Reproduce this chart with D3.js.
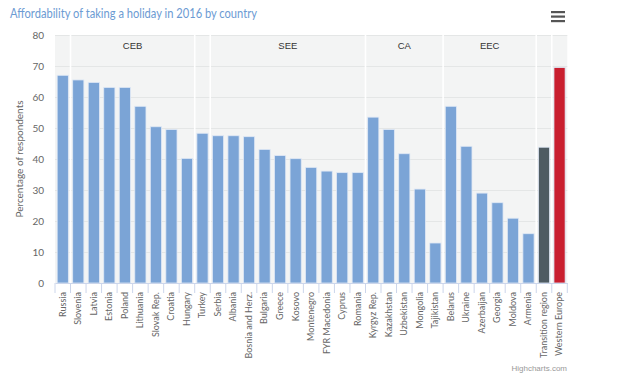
<!DOCTYPE html>
<html>
<head>
<meta charset="utf-8">
<script src="https://cdn.jsdelivr.net/npm/d3@7"></script>
<style>
  body { margin: 0; background: #fff; }
  svg { display: block; font-family: "Liberation Sans", Arial, sans-serif; }
</style>
</head>
<body>
<div id="chart"></div>
<script>
// DATA
var countries = ["Russia", "Slovenia", "Latvia", "Estonia", "Poland", "Lithuania", "Slovak Rep.",
  "Croatia", "Hungary", "Turkey", "Serbia", "Albania", "Bosnia and Herz.", "Bulgaria", "Greece",
  "Kosovo", "Montenegro", "FYR Macedonia", "Cyprus", "Romania", "Kyrgyz Rep.", "Kazakhstan",
  "Uzbekistan", "Mongolia", "Tajikistan", "Belarus", "Ukraine", "Azerbaijan", "Georgia",
  "Moldova", "Armenia", "Transition region", "Western Europe"];

var values = [67, 65.5, 64.7, 63.1, 63.1, 57, 50.4, 49.5, 40.2, 48.3, 47.5, 47.5, 47.2, 43.1, 41.1,
  40.1, 37.3, 36.1, 35.6, 35.6, 53.5, 49.5, 41.7, 30.3, 12.9, 57, 44.1, 29, 25.9, 20.9, 15.9,
  43.8, 69.5];

// region bands along the x axis (label, number of countries)
var bandLabels = ["", "CEB", "", "SEE", "CA", "EEC", "", ""];
var bandCounts = [1, 8, 1, 10, 5, 6, 1, 1];

var yTicks = [0, 10, 20, 30, 40, 50, 60, 70, 80];

// SET UP CHART
var svgWidth = 640, svgHeight = 386;
var margin = { top: 35, right: 73, bottom: 103, left: 55 };
var chartWidth = svgWidth - margin.left - margin.right + 0.3;
var chartHeight = svgHeight - margin.top - margin.bottom;

var svg = d3.select("#chart").append("svg")
  .attr("width", svgWidth)
  .attr("height", svgHeight);

// title
svg.append("text")
  .attr("x", 10)
  .attr("y", 18)
  .attr("fill", "#6c9bd3")
  .attr("textLength", 247)
  .attr("lengthAdjust", "spacingAndGlyphs")
  .style("font-family", "Lato, sans-serif")
  .style("font-size", "12.5px")
  .text("Affordability of taking a holiday in 2016 by country");

// export menu icon
[0, 1, 2].forEach(function(i) {
  svg.append("rect")
    .attr("x", 551).attr("y", 11 + i * 4.5)
    .attr("width", 14).attr("height", 2.2)
    .attr("fill", "#555");
});

var chartGroup = svg.append("g")
  .attr("transform", `translate(${margin.left}, ${margin.top})`);

var xScale = d3.scaleBand()
  .domain(countries)
  .range([0, chartWidth])
  .padding(0);

var yScale = d3.scaleLinear()
  .domain([0, 80])
  .range([chartHeight, 0]);

// plot background
chartGroup.append("rect")
  .attr("width", chartWidth)
  .attr("height", chartHeight)
  .attr("fill", "#f3f4f4");

// horizontal grid lines
chartGroup.append("g")
  .selectAll("line")
  .data(yTicks.slice(1))
  .enter()
  .append("line")
  .attr("x1", 0)
  .attr("x2", chartWidth)
  .attr("y1", d => Math.round(yScale(d)) + 0.5)
  .attr("y2", d => Math.round(yScale(d)) + 0.5)
  .attr("stroke", "#e4e6e6")
  .attr("stroke-width", 1);

// band separators and labels
var start = 0;
bandLabels.forEach(function(label, i) {
  var first = countries[start];
  var last = countries[start + bandCounts[i] - 1];
  var x0 = xScale(first);
  var x1 = xScale(last) + xScale.bandwidth();
  if (start > 0) {
    chartGroup.append("line")
      .attr("x1", x0).attr("x2", x0)
      .attr("y1", 0).attr("y2", chartHeight)
      .attr("stroke", "#ffffff")
      .attr("stroke-width", 1.6);
  }
  if (label) {
    chartGroup.append("text")
      .attr("x", (x0 + x1) / 2)
      .attr("y", 14)
      .attr("text-anchor", "middle")
      .attr("fill", "#333")
      .style("font-size", "9.5px")
      .text(label);
  }
  start += bandCounts[i];
});

// bars
function barColor(name) {
  if (name === "Transition region") return "#4e5b62";
  if (name === "Western Europe") return "#c91f2f";
  return "#7ba4d6";
}

var barWidth = xScale.bandwidth() * 0.72;

chartGroup.selectAll(".bar")
  .data(countries)
  .enter()
  .append("rect")
  .attr("class", "bar")
  .attr("x", d => xScale(d) + (xScale.bandwidth() - barWidth) / 2)
  .attr("y", (d, i) => yScale(values[i]))
  .attr("width", barWidth)
  .attr("height", (d, i) => chartHeight - yScale(values[i]))
  .attr("fill", d => barColor(d))
  .attr("stroke", "#dfe8f5")
  .attr("stroke-width", 0.8);

// x axis
var bottomAxis = d3.axisBottom(xScale).tickSize(0).tickPadding(10);
var xAxis = chartGroup.append("g")
  .attr("transform", `translate(0, ${chartHeight})`)
  .call(bottomAxis);
xAxis.select(".domain").attr("stroke", "#ccd6eb");
xAxis.selectAll("text")
  .attr("transform", "rotate(-90)")
  .attr("x", -9)
  .attr("y", 0)
  .attr("dy", "0.32em")
  .attr("text-anchor", "end")
  .attr("fill", "#666")
  .style("font-family", "Lato, sans-serif")
  .style("font-size", "9px");

// x tick marks at category boundaries
chartGroup.append("g")
  .selectAll("line")
  .data(countries.concat([null]))
  .enter()
  .append("line")
  .attr("x1", d => d === null ? chartWidth : xScale(d))
  .attr("x2", d => d === null ? chartWidth : xScale(d))
  .attr("y1", chartHeight)
  .attr("y2", chartHeight + 10)
  .attr("stroke", "#ccd6eb");

// y axis labels
var leftAxis = d3.axisLeft(yScale).tickValues(yTicks).tickSize(0).tickPadding(11);
var yAxis = chartGroup.append("g").call(leftAxis);
yAxis.select(".domain").remove();
yAxis.selectAll("text")
  .attr("fill", "#666")
  .style("font-family", "Lato, sans-serif")
  .style("font-size", "10px");

// y axis title
chartGroup.append("text")
  .attr("transform", "rotate(-90)")
  .attr("x", -chartHeight / 2)
  .attr("y", -32)
  .attr("text-anchor", "middle")
  .attr("fill", "#666")
  .style("font-family", "Lato, sans-serif")
  .style("font-size", "10px")
  .text("Percentage of respondents");

// credits
svg.append("text")
  .attr("x", 567)
  .attr("y", 371)
  .attr("text-anchor", "end")
  .attr("fill", "#999")
  .style("font-size", "8px")
  .text("Highcharts.com");
</script>
</body>
</html>
